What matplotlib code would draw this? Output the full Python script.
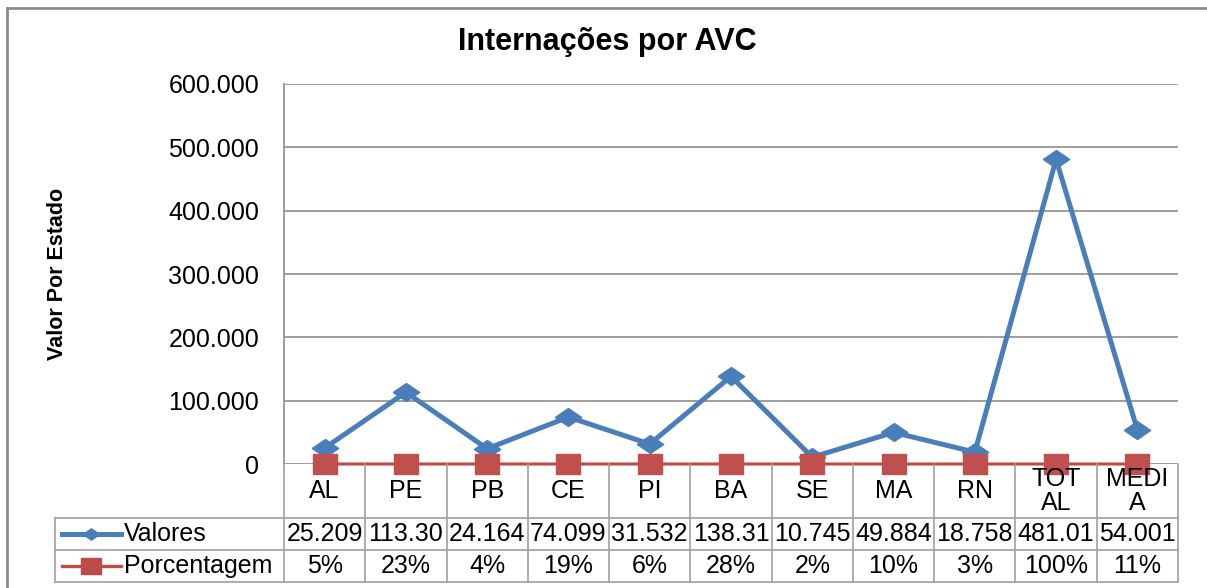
import matplotlib
matplotlib.use("Agg")
import matplotlib.pyplot as plt
from matplotlib import transforms
from matplotlib.lines import Line2D
from matplotlib.ticker import FuncFormatter

plt.rcParams['font.family'] = ['Liberation Sans', 'DejaVu Sans']

categories = ['AL', 'PE', 'PB', 'CE', 'PI', 'BA', 'SE', 'MA', 'RN', 'TOT\nAL', 'MEDI\nA']
valores = [25209, 113300, 24164, 74099, 31532, 138310, 10745, 49884, 18758, 481010, 54001]
porcentagem = [0.05, 0.23, 0.04, 0.19, 0.06, 0.28, 0.02, 0.10, 0.03, 1.00, 0.11]
series_names = ['Valores', 'Porcentagem']

blue = '#4A7EBB'
red = '#BE4B48'
grid_col = '#8C8C8C'
cell_col = '#A0A0A0'

W, H = 1207, 588
fig = plt.figure(figsize=(W / 100, H / 100), dpi=100)


def fx(px):
    return px / W


def fy(py):
    return 1 - py / H


diamond = [(-1, 0), (0, 0.68), (1, 0), (0, -0.68), (-1, 0)]
square = [(-1, -0.83), (1, -0.83), (1, 0.83), (-1, 0.83), (-1, -0.83)]

ax = fig.add_axes([fx(284), fy(464), fx(1178) - fx(284), fy(84) - fy(464)])
x = list(range(len(categories)))
ax.plot(x, valores, color=blue, lw=3.6, marker=diamond, ms=19,
        mfc=blue, mec=blue, clip_on=False, zorder=3)
ax.plot(x, porcentagem, color=red, lw=2.2, marker=square, ms=17.5,
        mfc='#C0504D', mec='#C0504D', clip_on=False, zorder=4)

ax.set_xlim(-0.5, len(categories) - 0.5)
ax.set_ylim(0, 600000)
ax.set_yticks(range(0, 600001, 100000))
ax.yaxis.set_major_formatter(FuncFormatter(
    lambda v, _: '0' if v == 0 else f"{int(v):,}".replace(',', '.')))
ax.tick_params(axis='y', length=0, labelsize=18, pad=18)
ax.set_xticks([])
ax.grid(axis='y', color=grid_col, lw=1.2)
ax.set_axisbelow(True)
for s in ['top', 'right', 'bottom']:
    ax.spines[s].set_visible(False)
ax.spines['left'].set_color(grid_col)
ax.spines['left'].set_linewidth(1.2)

# data table under the plot
trans = transforms.blended_transform_factory(ax.transData, fig.transFigure)
for i in range(len(categories) + 1):
    b = i - 0.5
    fig.add_artist(Line2D([b, b], [fy(464), fy(582)], transform=trans,
                          color=cell_col, lw=1.2))
for yy in [518, 550, 582]:
    fig.add_artist(Line2D([fx(55), fx(1178)], [fy(yy), fy(yy)],
                          color=cell_col, lw=1.2))
fig.add_artist(Line2D([fx(55), fx(55)], [fy(518), fy(582)], color=cell_col, lw=1.2))

for i, c in enumerate(categories):
    fig.text(i, fy(491), c, transform=trans, ha='center', va='center',
             fontsize=18, linespacing=0.95)
    fig.text(i, fy(534), f"{valores[i]:,}".replace(',', '.')[:6], transform=trans,
             ha='center', va='center', fontsize=18)
    fig.text(i, fy(566), f"{porcentagem[i]:.0%}", transform=trans,
             ha='center', va='center', fontsize=18)

# legend keys in the table
for yy, name, col, mk, ms, lw in [(534, series_names[0], blue, diamond, 12, 3.6),
                                  (566, series_names[1], red, square, 14, 2.4)]:
    fig.add_artist(Line2D([fx(62), fx(121)], [fy(yy), fy(yy)], color=col, lw=lw))
    fig.add_artist(Line2D([fx(91)], [fy(yy)], color=col, marker=mk, ms=ms, lw=0))
    fig.text(fx(124), fy(yy), name, ha='left', va='center', fontsize=18)

fig.text(fx(607), fy(42), 'Internações por AVC', ha='center', va='center',
         fontsize=22, weight='bold')
fig.text(fx(58), fy(274), 'Valor Por Estado', rotation=90, ha='center',
         va='center', fontsize=15.5, weight='bold')

# outer chart frame (partly cropped)
fig.add_artist(Line2D([fx(7), 1.01], [fy(8), fy(8)], color=grid_col, lw=2))
fig.add_artist(Line2D([fx(7), fx(7)], [fy(8), -0.01], color=grid_col, lw=2))

fig.savefig('out.png', dpi=100)
